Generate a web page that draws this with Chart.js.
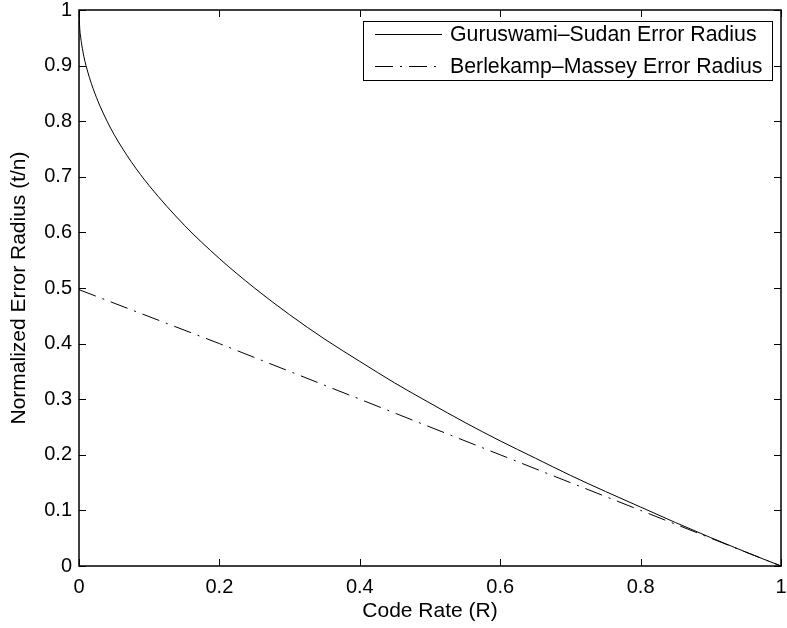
<!DOCTYPE html>
<html>
<head>
<meta charset="utf-8">
<script src="https://cdn.jsdelivr.net/npm/chart.js@4.4.0/dist/chart.umd.min.js"></script>
<style>
  html, body { margin: 0; padding: 0; background: #fff; }
  #wrap { width: 787px; height: 628px; }
</style>
</head>
<body>
<div id="wrap"><canvas id="radius-chart"></canvas></div>
<script>
// code rate samples and the values
var rateGS = [0, 0.001, 0.002, 0.004, 0.007, 0.01, 0.015, 0.02, 0.03, 0.04, 0.05, 0.075, 0.1, 0.15, 0.2,
              0.25, 0.3, 0.35, 0.4, 0.45, 0.5, 0.55, 0.6, 0.65, 0.7, 0.75, 0.8, 0.85, 0.9, 0.95, 1];
var radiusGS = [1, 0.968, 0.955, 0.937, 0.916, 0.9, 0.878, 0.859, 0.827, 0.8, 0.776, 0.726, 0.684, 0.613, 0.553,
                0.5, 0.452, 0.408, 0.368, 0.329, 0.293, 0.258, 0.225, 0.194, 0.163, 0.134, 0.106, 0.078, 0.051, 0.025, 0];
var rateBM = [0, 0.2, 0.4, 0.6, 0.8, 1];
var radiusBM = [0.497, 0.4, 0.3, 0.2, 0.1, 0];
var xTicks = [0, 0.2, 0.4, 0.6, 0.8, 1];
var yTicks = [0, 0.1, 0.2, 0.3, 0.4, 0.5, 0.6, 0.7, 0.8, 0.9, 1];

var FONT = "Liberation Sans, Arial, Helvetica, sans-serif";

function toPoints(xs, ys) {
    return xs.map(function (x, i) { return { x: x, y: ys[i] }; });
}

// matlab style box, inward ticks and boxed legend
var matlabFrame = {
    id: 'matlabFrame',
    afterDraw: function (chart) {
        var ctx = chart.ctx, a = chart.chartArea;
        var xs = chart.scales.x, ys = chart.scales.y;
        var tl = 7;
        ctx.save();
        ctx.strokeStyle = '#000';
        ctx.lineWidth = 1.5;
        ctx.strokeRect(a.left, a.top, a.right - a.left, a.bottom - a.top);
        ctx.lineWidth = 1;
        ctx.beginPath();
        xTicks.forEach(function (v) {
            var px = Math.round(xs.getPixelForValue(v)) + 0.5;
            ctx.moveTo(px, a.bottom); ctx.lineTo(px, a.bottom - tl);
            ctx.moveTo(px, a.top); ctx.lineTo(px, a.top + tl);
        });
        yTicks.forEach(function (v) {
            var py = Math.round(ys.getPixelForValue(v)) + 0.5;
            ctx.moveTo(a.left, py); ctx.lineTo(a.left + tl, py);
            ctx.moveTo(a.right, py); ctx.lineTo(a.right - tl, py);
        });
        ctx.stroke();

        // legend
        var lx = 363, ly = 21, lw = 409, lh = 59;
        ctx.fillStyle = '#fff';
        ctx.fillRect(lx, ly, lw, lh);
        ctx.lineWidth = 1;
        ctx.strokeRect(lx + 0.5, ly + 0.5, lw, lh);
        ctx.font = '21.3px ' + FONT;
        ctx.textBaseline = 'middle';
        chart.data.datasets.forEach(function (ds, i) {
            var yy = ly + 13 + i * 32 + 0.5;
            ctx.setLineDash(ds.borderDash || []);
            ctx.beginPath();
            ctx.moveTo(lx + 12, yy);
            ctx.lineTo(lx + 79, yy);
            ctx.stroke();
            ctx.setLineDash([]);
            ctx.fillStyle = '#000';
            ctx.fillText(ds.label, lx + 87, yy + 1);
        });
        ctx.restore();
    }
};

new Chart(document.getElementById('radius-chart'), {
    type: 'line',
    data: {
        datasets: [{
            label: 'Guruswami\u2013Sudan Error Radius',
            data: toPoints(rateGS, radiusGS),
            borderColor: '#000',
            borderWidth: 1,
            pointRadius: 0,
            cubicInterpolationMode: 'monotone',
            fill: false
        }, {
            label: 'Berlekamp\u2013Massey Error Radius',
            data: toPoints(rateBM, radiusBM),
            borderColor: '#000',
            borderWidth: 1,
            borderDash: [18, 7, 2, 7],
            pointRadius: 0,
            fill: false
        }]
    },
    options: {
        responsive: true,
        maintainAspectRatio: false,
        animation: false,
        layout: { padding: { top: 10, right: 6, left: 0, bottom: 0 } },
        plugins: { legend: { display: false }, tooltip: { enabled: false } },
        scales: {
            x: {
                type: 'linear', min: 0, max: 1,
                afterFit: function (s) { s.height = 62; s.paddingLeft = 0; s.paddingRight = 0; },
                afterBuildTicks: function (s) { s.ticks = xTicks.map(function (v) { return { value: v }; }); },
                grid: { display: false, drawTicks: false },
                border: { display: false },
                ticks: {
                    color: '#000', padding: 9, maxRotation: 0,
                    font: { family: FONT, size: 20 },
                    callback: function (v) { return String(Math.round(v * 10) / 10); }
                },
                title: {
                    display: true, text: 'Code Rate (R)', color: '#000',
                    font: { family: FONT, size: 21 }, padding: { top: 0, bottom: 4 }
                }
            },
            y: {
                type: 'linear', min: 0, max: 1,
                afterFit: function (s) { s.width = 79; s.paddingTop = 0; s.paddingBottom = 0; },
                afterBuildTicks: function (s) { s.ticks = yTicks.map(function (v) { return { value: v }; }); },
                grid: { display: false, drawTicks: false },
                border: { display: false },
                ticks: {
                    color: '#000', padding: 7,
                    font: { family: FONT, size: 20 },
                    callback: function (v) { return String(Math.round(v * 10) / 10); }
                },
                title: {
                    display: true, text: 'Normalized Error Radius (t/n)', color: '#000',
                    font: { family: FONT, size: 21 }, padding: { top: 7, bottom: 0 }
                }
            }
        }
    },
    plugins: [matlabFrame]
});
</script>
</body>
</html>
